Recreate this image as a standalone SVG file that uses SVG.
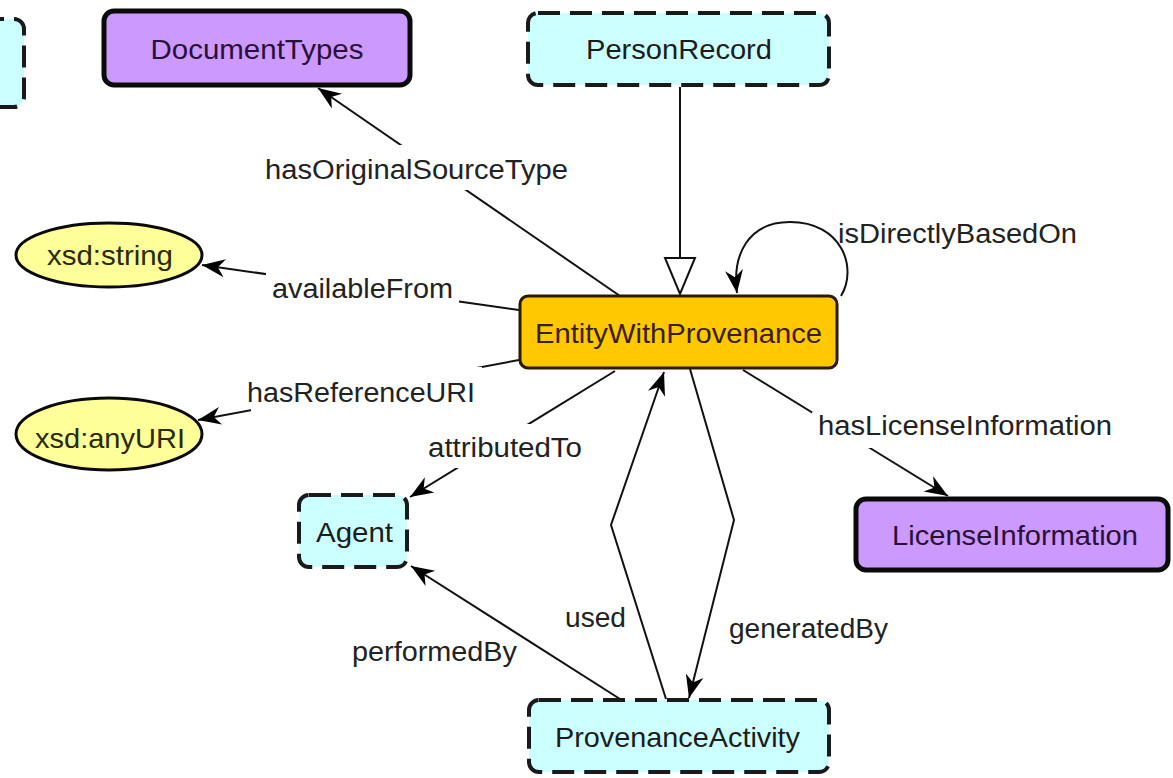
<svg xmlns="http://www.w3.org/2000/svg" width="1173" height="778" viewBox="0 0 1173 778">
<style>
text{font-family:"Liberation Sans",Arial,sans-serif;font-size:28px;fill:#1c1c1c}
.lbl{font-size:27px;fill:#222}
.cls{fill:#ccffff;stroke:#1a1a1a;stroke-width:4;stroke-dasharray:22 10}
.pur{fill:#cc99ff;stroke:#0a0a0a;stroke-width:5}
.lit{fill:#ffff99;stroke:#0a0a0a;stroke-width:3}
.ewp{fill:#ffc800;stroke:#2a1a05;stroke-width:3}
.edge{fill:none;stroke:#111;stroke-width:2}
.bg{fill:#ffffff}
</style>
<defs>
<marker id="arr" markerWidth="26" markerHeight="22" refX="23" refY="10" orient="auto" markerUnits="userSpaceOnUse">
<path d="M0,1 L23,10 L0,19 L7,10 Z" fill="#000"/>
</marker>
</defs>
<rect width="1173" height="778" fill="#ffffff"/>

<g id="connectors">
<line class="edge" x1="620" y1="296" x2="318" y2="88" marker-end="url(#arr)"/>
<line class="edge" x1="680" y1="87" x2="680" y2="258"/>
<polygon points="665,258 695,258 680,294" fill="#ffffff" stroke="#111" stroke-width="2"/>
<path class="edge" d="M841,296 C858,268 842,222 790,222 C748,222 732,255 737,293" marker-end="url(#arr)"/>
<line class="edge" x1="519" y1="310" x2="202" y2="265" marker-end="url(#arr)"/>
<line class="edge" x1="519" y1="360" x2="198" y2="420" marker-end="url(#arr)"/>
<line class="edge" x1="615" y1="371" x2="410" y2="497" marker-end="url(#arr)"/>
<polyline class="edge" points="666,699 611,525 664,372" marker-end="url(#arr)"/>
<polyline class="edge" points="690,369 734,520 689,698" marker-end="url(#arr)"/>
<line class="edge" x1="620" y1="699" x2="411" y2="566" marker-end="url(#arr)"/>
<line class="edge" x1="743" y1="370" x2="948" y2="496" marker-end="url(#arr)"/>
<rect class="bg" x="258" y="145" width="317" height="45"/>
<rect class="bg" x="266" y="271" width="193" height="35"/>
<rect class="bg" x="251" y="367" width="231" height="45"/>
<rect class="bg" x="424" y="424" width="162" height="44"/>
<rect class="bg" x="812" y="412" width="304" height="36"/>
<text class="lbl" x="416.5" y="179" text-anchor="middle" textLength="303" lengthAdjust="spacingAndGlyphs">hasOriginalSourceType</text>
<text class="lbl" x="838" y="243" textLength="239" lengthAdjust="spacingAndGlyphs">isDirectlyBasedOn</text>
<text class="lbl" x="272" y="298" textLength="181" lengthAdjust="spacingAndGlyphs">availableFrom</text>
<text class="lbl" x="247" y="402" textLength="228" lengthAdjust="spacingAndGlyphs">hasReferenceURI</text>
<text class="lbl" x="428" y="457" textLength="154" lengthAdjust="spacingAndGlyphs">attributedTo</text>
<text class="lbl" x="818" y="435" textLength="294" lengthAdjust="spacingAndGlyphs">hasLicenseInformation</text>
<text class="lbl" x="565" y="627" textLength="61" lengthAdjust="spacingAndGlyphs">used</text>
<text class="lbl" x="729" y="638" textLength="159" lengthAdjust="spacingAndGlyphs">generatedBy</text>
<text class="lbl" x="352" y="661" textLength="165" lengthAdjust="spacingAndGlyphs">performedBy</text>
</g>

<g id="node-partial">
<rect class="cls" x="-60" y="19" width="84" height="88" rx="10"/>
</g>
<g id="node-DocumentTypes">
<rect class="pur" x="104" y="11" width="306" height="74" rx="10"/>
<text x="257" y="59" text-anchor="middle" textLength="213" lengthAdjust="spacingAndGlyphs" style="fill:#2a1038">DocumentTypes</text>
</g>
<g id="node-PersonRecord">
<rect class="cls" x="528" y="13" width="301" height="72" rx="10"/>
<text x="679" y="59" text-anchor="middle" textLength="186" lengthAdjust="spacingAndGlyphs">PersonRecord</text>
</g>
<g id="node-EntityWithProvenance">
<rect class="ewp" x="520" y="296" width="317" height="72" rx="8"/>
<text x="678.5" y="343" text-anchor="middle" textLength="287" lengthAdjust="spacingAndGlyphs" style="fill:#3a2000">EntityWithProvenance</text>
</g>
<g id="node-xsd-string">
<ellipse class="lit" cx="109" cy="255" rx="93" ry="32"/>
<text x="110" y="265" text-anchor="middle" textLength="126" lengthAdjust="spacingAndGlyphs" style="fill:#2a2a00">xsd:string</text>
</g>
<g id="node-xsd-anyURI">
<ellipse class="lit" cx="109" cy="434" rx="93" ry="36"/>
<text x="110" y="448" text-anchor="middle" textLength="150" lengthAdjust="spacingAndGlyphs" style="fill:#2a2a00">xsd:anyURI</text>
</g>
<g id="node-Agent">
<rect class="cls" x="299" y="495" width="108" height="72" rx="10"/>
<text x="354.5" y="542" text-anchor="middle" textLength="77" lengthAdjust="spacingAndGlyphs">Agent</text>
</g>
<g id="node-LicenseInformation">
<rect class="pur" x="856" y="499" width="312" height="71" rx="10"/>
<text x="1015" y="545" text-anchor="middle" textLength="246" lengthAdjust="spacingAndGlyphs" style="fill:#2a1038">LicenseInformation</text>
</g>
<g id="node-ProvenanceActivity">
<rect class="cls" x="529" y="700" width="300" height="72" rx="10"/>
<text x="677.5" y="747" text-anchor="middle" textLength="245" lengthAdjust="spacingAndGlyphs">ProvenanceActivity</text>
</g>
</svg>
